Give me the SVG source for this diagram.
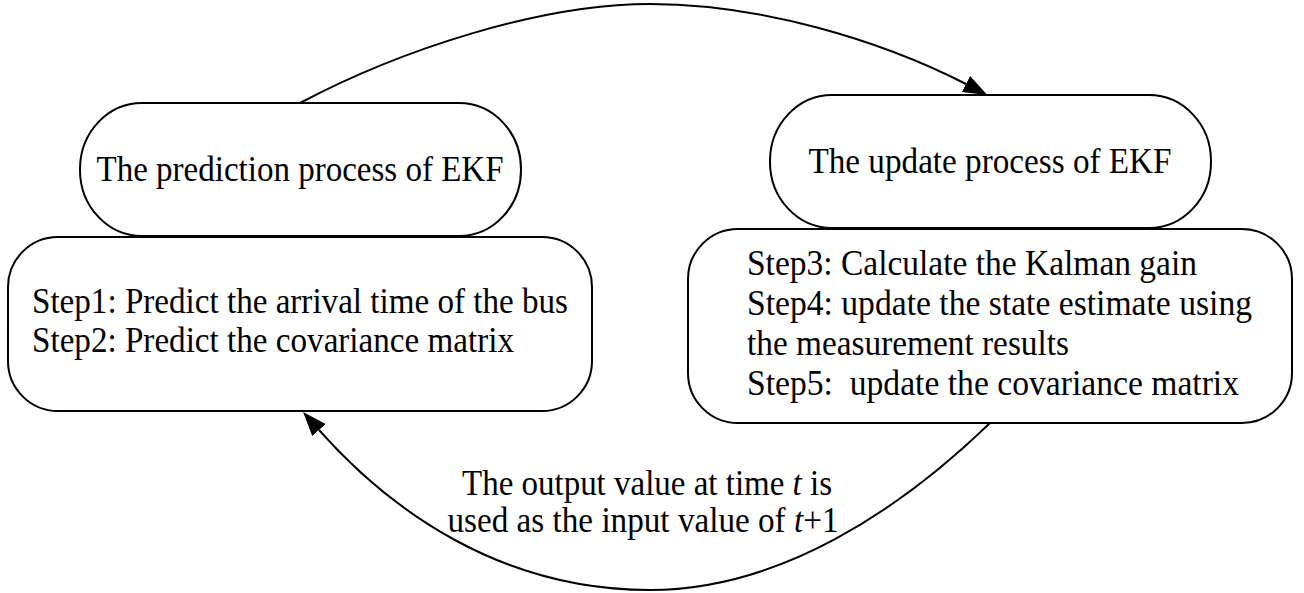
<svg xmlns="http://www.w3.org/2000/svg" width="1304" height="593" viewBox="0 0 1304 593">
  <style>
    .shape { fill: #fff; stroke: #000; stroke-width: 2; }
    .edge { fill: none; stroke: #000; stroke-width: 2; }
    text { font-family: "Liberation Serif", "Times New Roman", serif; font-size: 35px; fill: #000; }
    .c { text-anchor: middle; }
  </style>
  <defs>
    <marker id="arrow" markerUnits="userSpaceOnUse" markerWidth="26" markerHeight="20" refX="0" refY="9" orient="auto">
      <path d="M0,0 L24,9 L0,18 Z" fill="#000"/>
    </marker>
  </defs>
  <rect width="1304" height="593" fill="#fff"/>

  <!-- connectors -->
  <g id="edges">
    <path class="edge" d="M300,103 C400,50 540,4 650,4 C760,4 880,40 966,84" marker-end="url(#arrow)"/>
    <path class="edge" d="M990,423 C900,510 780,590 650,590 C500,590 390,510 319,430" marker-end="url(#arrow)"/>
    <text class="c" x="647" y="495" textLength="370" lengthAdjust="spacingAndGlyphs">The output value at time <tspan font-style="italic">t</tspan> is</text>
    <text class="c" x="643" y="532" textLength="391" lengthAdjust="spacingAndGlyphs">used as the input value of <tspan font-style="italic">t</tspan>+1</text>
  </g>

  <!-- prediction side -->
  <g id="predict-title">
    <rect class="shape" x="80" y="103" width="441" height="133" rx="62" ry="66"/>
    <text class="c" x="300" y="181" textLength="407" lengthAdjust="spacingAndGlyphs">The prediction process of EKF</text>
  </g>
  <g id="predict-steps">
    <rect class="shape" x="8" y="237" width="584" height="174" rx="50" ry="50"/>
    <text x="32" y="313" textLength="536" lengthAdjust="spacingAndGlyphs">Step1: Predict the arrival time of the bus</text>
    <text x="32" y="352" textLength="482" lengthAdjust="spacingAndGlyphs">Step2: Predict the covariance matrix</text>
  </g>

  <!-- update side -->
  <g id="update-title">
    <rect class="shape" x="770" y="95" width="441" height="133" rx="62" ry="66"/>
    <text class="c" x="990" y="173" textLength="363" lengthAdjust="spacingAndGlyphs">The update process of EKF</text>
  </g>
  <g id="update-steps">
    <rect class="shape" x="688" y="229" width="604" height="194" rx="50" ry="50"/>
    <text x="747" y="275" textLength="450" lengthAdjust="spacingAndGlyphs">Step3: Calculate the Kalman gain</text>
    <text x="747" y="315" textLength="505" lengthAdjust="spacingAndGlyphs">Step4: update the state estimate using</text>
    <text x="747" y="355" textLength="322" lengthAdjust="spacingAndGlyphs">the measurement results</text>
    <text x="747" y="395" textLength="492" lengthAdjust="spacingAndGlyphs" xml:space="preserve">Step5:  update the covariance matrix</text>
  </g>
</svg>
